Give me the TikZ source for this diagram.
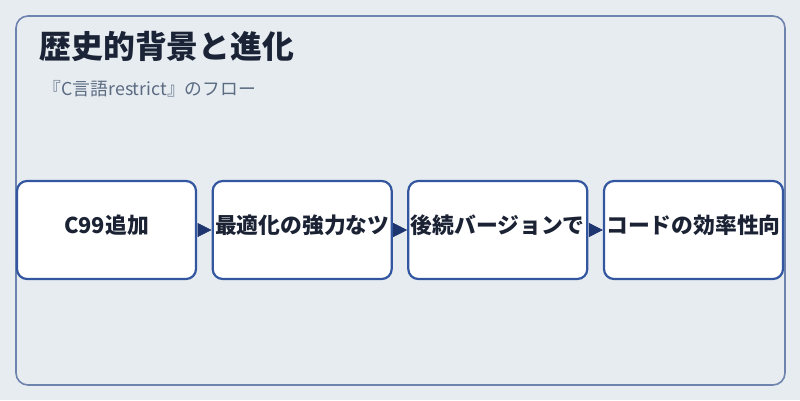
\documentclass[tikz,border=0pt]{standalone}
\usepackage{fontspec}
\setmainfont{Noto Sans CJK JP}
\usetikzlibrary{arrows.meta}
\definecolor{bgc}{HTML}{E7ECF1}
\definecolor{framec}{HTML}{6E84AE}
\definecolor{boxc}{HTML}{3356A0}
\definecolor{arrc}{HTML}{1E3670}
\definecolor{titlec}{HTML}{1B2437}
\definecolor{subc}{HTML}{5B6B82}
\definecolor{textc}{HTML}{1A2233}
\tikzset{
  stepbox/.style={draw=boxc, line width=2.2pt, fill=white, rounded corners=10pt,
    minimum width=179pt, minimum height=98pt, inner sep=0pt,
    text height=0.8em, text depth=0.1em,
    font=\fontsize{21.8pt}{25pt}\selectfont\bfseries, text=textc},
  flowarrow/.style={draw=arrc, line width=0.6pt, shorten <=1.5pt,
    -{Triangle[length=14pt,width=14pt,fill=arrc]}},
}
\begin{document}
\begin{tikzpicture}[x=1pt,y=-1pt]
\useasboundingbox (0,0) rectangle (800,400);
\fill[bgc] (0,0) rectangle (800,400);
\draw[framec, line width=1.6pt, rounded corners=12pt] (16,16) rectangle (785,385);
\node[anchor=base west, inner sep=0pt, text=titlec, font=\fontsize{31.8pt}{36pt}\selectfont\bfseries] (title) at (39.5,58.5) {歴史的背景と進化};
\node[anchor=base west, inner sep=0pt, text=subc, font=\fontsize{17.8pt}{21pt}\selectfont] (sub) at (43.5,95) {『C言語restrict』のフロー};
\node[stepbox] (b1) at (106.5,230) {C99追加};
\node[stepbox] (b2) at (302.2,230) {最適化の強力なツ};
\node[stepbox] (b3) at (497.8,230) {後続バージョンで};
\node[stepbox] (b4) at (693.5,230) {コードの効率性向};
\draw[flowarrow] (b1.east) -- (b2.west);
\draw[flowarrow] (b2.east) -- (b3.west);
\draw[flowarrow] (b3.east) -- (b4.west);
\end{tikzpicture}
\end{document}
